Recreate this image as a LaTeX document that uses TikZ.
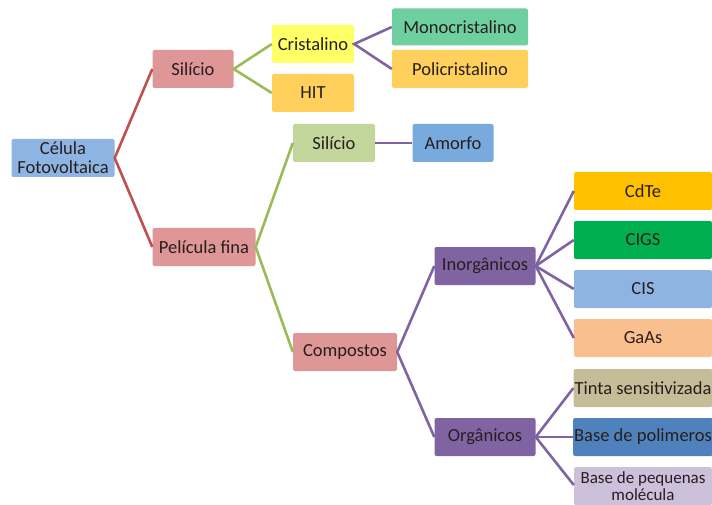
\documentclass[tikz,border=0pt]{standalone}
\usepackage{fontspec}
\setmainfont{Carlito}
\usetikzlibrary{positioning}
\definecolor{lnred}{RGB}{192, 80, 77}
\definecolor{lngreen}{RGB}{155, 187, 89}
\definecolor{lnpurple}{RGB}{128, 100, 162}
\definecolor{txtdark}{RGB}{40, 30, 30}
\definecolor{cblue}{RGB}{141, 180, 226}
\definecolor{cpink}{RGB}{222, 150, 150}
\definecolor{cyellow}{RGB}{255, 255, 102}
\definecolor{corange}{RGB}{255, 209, 92}
\definecolor{cmint}{RGB}{110, 208, 160}
\definecolor{colive}{RGB}{195, 214, 155}
\definecolor{camorfo}{RGB}{120, 170, 222}
\definecolor{cpurple}{RGB}{128, 100, 162}
\definecolor{cgold}{RGB}{255, 192, 0}
\definecolor{cgreen}{RGB}{0, 176, 80}
\definecolor{cpeach}{RGB}{250, 191, 143}
\definecolor{ctan}{RGB}{196, 189, 151}
\definecolor{cnavy}{RGB}{79, 129, 189}
\definecolor{clilac}{RGB}{204, 192, 218}

\tikzset{
  box/.style={rectangle, rounded corners=2pt, minimum height=38pt, inner sep=2pt,
    align=center, text=txtdark, font=\fontsize{18.5}{19}\selectfont},
  sidebox/.style={box, minimum width=138pt, inner xsep=1pt},
  link/.style={line width=2.6pt}
}

\begin{document}
\begin{tikzpicture}[x=1pt, y=-1pt]
                    \useasboundingbox (0,0) rectangle (712,505);
                    \clip (0,0) rectangle (712,505);
                    % first levels
                    \node[box, fill=cblue, minimum width=103pt] (celula) at (63,158) {Célula\\Fotovoltaica};
                    \node[box, fill=cpink, minimum width=81pt] (silicio) at (193,69) {Silício};
                    \node[box, fill=cpink, minimum width=103pt] (pelicula) at (204,247) {Película fina};
                    \node[box, fill=cyellow, minimum width=82pt] (cristalino) at (313,44) {Cristalino};
                    \node[box, fill=corange, minimum width=82pt] (hit) at (313,93) {HIT};
                    \node[box, fill=cmint, minimum width=136pt, minimum height=37pt] (mono) at (460,27) {Monocristalino};
                    \node[box, fill=corange, minimum width=136pt] (poli) at (460,69) {Policristalino};
                    \node[box, fill=colive, minimum width=82pt] (silfina) at (334,143) {Silício};
                    \node[box, fill=camorfo, minimum width=81pt] (amorfo) at (453,143) {Amorfo};
                    \node[box, fill=cpink, minimum width=104pt] (compostos) at (345,352) {Compostos};
                    \node[box, fill=cpurple, minimum width=101pt] (inorg) at (485,266) {Inorgânicos};
                    \node[box, fill=cpurple, minimum width=101pt] (org) at (485,437) {Orgânicos};
                    % right column
                    \node[sidebox, fill=cgold] (cdte) at (643,191) {CdTe};
                    \node[sidebox, fill=cgreen] (cigs) at (643,240) {CIGS};
                    \node[sidebox, fill=cblue] (cis) at (643,289) {CIS};
                    \node[sidebox, fill=cpeach] (gaas) at (643,338) {GaAs};
                    \node[sidebox, fill=ctan] (tinta) at (643,388) {Tinta sensitivizada};
                    \node[sidebox, fill=cnavy] (polim) at (643,437) {Base de polimeros};
                    \node[sidebox, fill=clilac, anchor=north, inner ysep=1pt, font=\fontsize{17}{17.5}\selectfont] (pequenas) at (643,467) {Base de pequenas\\molécula};
                    % connectors
                    \draw[link, lnred] (silicio.west) -- (celula.east) -- (pelicula.west);
                    \draw[link, lngreen] (cristalino.west) -- (silicio.east) -- (hit.west);
                    \draw[link, lnpurple] (mono.west) -- (cristalino.east) -- (poli.west);
                    \draw[link, lngreen] (silfina.west) -- (pelicula.east) -- (compostos.west);
                    \draw[link, lnpurple] (silfina.east) -- (amorfo.west);
                    \draw[link, lnpurple] (inorg.west) -- (compostos.east) -- (org.west);
                    \foreach \n in {cdte, cigs, cis, gaas}
                        \draw[link, lnpurple] (inorg.east) -- (\n.west);
                    \foreach \n in {tinta, polim}
                        \draw[link, lnpurple] (org.east) -- (\n.west);
                    \draw[link, lnpurple] (org.east) -- (pequenas.west |- 0,485);
                \end{tikzpicture}
\end{document}
